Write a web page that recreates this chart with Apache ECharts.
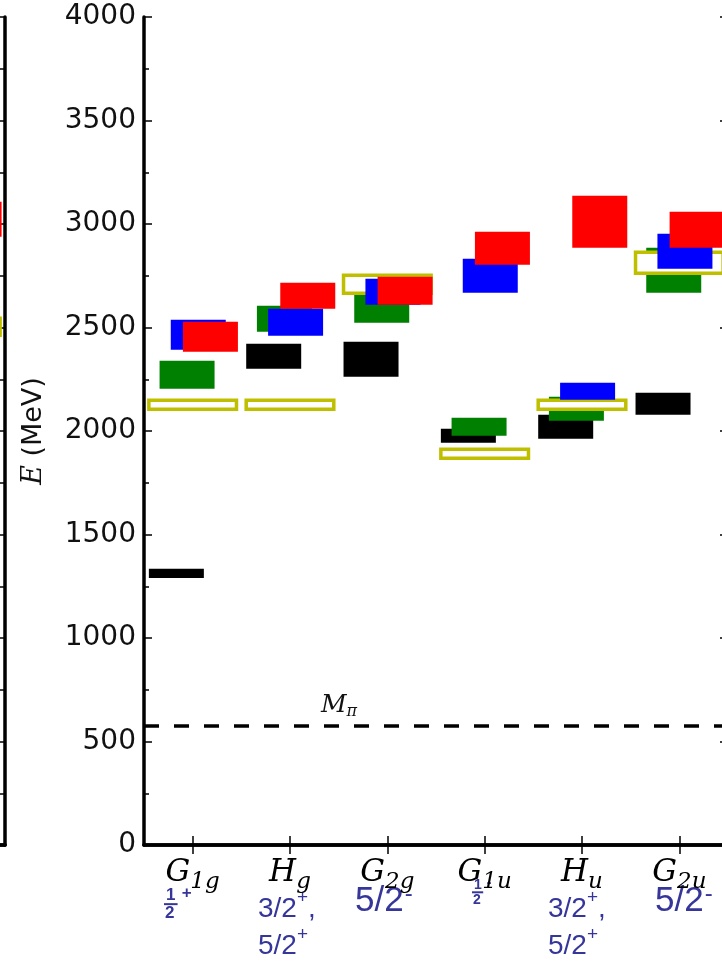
<!DOCTYPE html>
<html>
<head>
<meta charset="utf-8">
<script src="https://cdn.jsdelivr.net/npm/echarts@6/dist/echarts.min.js"></script>
<style>
  html, body { margin: 0; padding: 0; background: #fff; }
  #chart { width: 722px; height: 971px; }
</style>
</head>
<body>
<div id="chart"></div>
<script>
// irreps along the x axis
const irrepMain = ['G', 'H', 'G', 'G', 'H', 'G']
const irrepSub = ['1g', 'g', '2g', '1u', 'u', '2u']

// energy bands (MeV), low / high edge of every box
const blackLow = [1290, 2301, 2262, 1943, 1962, 2078]
const blackHigh = [1334, 2421, 2431, 2011, 2078, 2185]
const greenLow = [2204, 2479, 2523, 1977, 2049, 2668]
const greenHigh = [2339, 2605, 2673, 2064, 2165, 2885]
const blueLow = [2392, 2460, 2610, 2668, 2151, 2784]
const blueHigh = [2537, 2591, 2736, 2832, 2233, 2953]
const redLow = [2383, 2591, 2610, 2803, 2885, 2885]
const redHigh = [2528, 2716, 2745, 2963, 3137, 3059]
const yellowLow = [2105, 2105, 2666, 1868, 2105, 2762]
const yellowHigh = [2148, 2148, 2753, 1912, 2148, 2864]

// neighbouring panel (only its right edge is in view)
const leftRedLow = [null, null, null, null, null, 2939]
const leftRedHigh = [null, null, null, null, null, 3108]
const leftYellowLow = [null, null, null, null, null, 2463]
const leftYellowHigh = [null, null, null, null, null, 2545]

const mPi = 575

// spin content written under the irreps
const spinText = ['', '{n|3/2}{p|+}{n|,}\n{n|5/2}{p|+}', '{b|5/2}{q|-}', '', '{n|3/2}{p|+}{n|,}\n{n|5/2}{p|+}', '{b|5/2}{q|-}']

const chart = echarts.init(document.getElementById('chart'))

function boxSeries(lows, highs, fill, off, w, z, grid, stroke) {
  const data = []
  lows.forEach((lo, i) => {
    if (lo != null) data.push([i, lo, highs[i]])
  })
  return {
    type: 'custom',
    xAxisIndex: grid * 2,
    yAxisIndex: grid * 2,
    z: z,
    silent: true,
    clip: false,
    encode: { x: 0, y: [1, 2] },
    data: data,
    renderItem(params, api) {
      const i = api.value(0)
      const top = api.coord([i, api.value(2)])
      const bot = api.coord([i, api.value(1)])
      const band = api.size([1, 0])[0]
      return {
        type: 'rect',
        shape: { x: top[0] + off * band, y: top[1], width: w * band, height: bot[1] - top[1] },
        style: stroke ? { fill: '#fff', stroke: stroke, lineWidth: 3.5 } : { fill: fill }
      }
    }
  }
}

const axisLine = { show: true, lineStyle: { color: '#000', width: 3.5 } }
const tickStyle = { color: '#000', width: 1.5 }

function xAxis(grid, pos, labels) {
  return {
    type: 'category',
    gridIndex: grid,
    position: pos,
    data: irrepMain.map((m, i) => '{m|' + m + '}{s|' + irrepSub[i] + '}'),
    axisLine: axisLine,
    axisTick: { show: true, inside: true, alignWithLabel: true, length: 9, lineStyle: tickStyle },
    axisLabel: {
      show: labels,
      margin: 12,
      rich: {
        m: { fontFamily: 'DejaVu Serif', fontStyle: 'italic', fontSize: 31, color: '#000', verticalAlign: 'top', lineHeight: 32 },
        s: { fontFamily: 'DejaVu Serif', fontStyle: 'italic', fontSize: 23, color: '#000', verticalAlign: 'top', lineHeight: 23, padding: [14, 0, 0, 0] }
      }
    },
    splitLine: { show: false }
  }
}

function yAxis(grid, pos, labels) {
  const ax = {
    type: 'value',
    gridIndex: grid,
    position: pos,
    min: 0,
    max: 4000,
    interval: 500,
    axisLine: axisLine,
    axisTick: { show: true, inside: true, length: 8, lineStyle: tickStyle },
    minorTick: { show: true, splitNumber: 2, length: 5, lineStyle: tickStyle },
    splitLine: { show: false },
    axisLabel: { show: labels, fontFamily: 'DejaVu Sans', fontSize: 28, color: '#111', margin: 8, formatter: v => String(v) }
  }
  if (labels) {
    ax.name = '{e|E} (MeV)'
    ax.nameLocation = 'middle'
    ax.nameRotate = 90
    ax.nameGap = 97
    ax.nameTextStyle = {
      fontFamily: 'DejaVu Sans', fontSize: 27, color: '#111',
      rich: { e: { fontFamily: 'DejaVu Serif', fontStyle: 'italic', fontSize: 27, color: '#111' } }
    }
  }
  return ax
}

const blueTxt = '#35359a'
const spinRich = {
  n: { fontFamily: 'Liberation Sans', fontSize: 28, fill: blueTxt, lineHeight: 37, verticalAlign: 'bottom' },
  p: { fontFamily: 'Liberation Sans', fontSize: 19, fill: blueTxt, lineHeight: 37, verticalAlign: 'top', padding: [2, 0, 0, 0] },
  b: { fontFamily: 'Liberation Sans', fontSize: 35, fill: blueTxt, lineHeight: 37, verticalAlign: 'bottom' },
  q: { fontFamily: 'Liberation Sans', fontSize: 24, fill: blueTxt, lineHeight: 37, verticalAlign: 'top', padding: [0, 0, 0, 1] }
}
const spinPos = [null, [258, 886], [355, 882], null, [548, 886], [655, 882]]

const graphics = []
spinText.forEach((t, i) => {
  if (!t) return
  graphics.push({ type: 'text', left: spinPos[i][0], top: spinPos[i][1], style: { text: t, rich: spinRich, fill: blueTxt } })
})

// the two stacked one-halves
function half(x, y, s, sign) {
  return {
    type: 'group', left: x, top: y,
    children: [
      { type: 'text', x: 2, y: 0, style: { text: '1', fontFamily: 'Liberation Sans', fontWeight: 'bold', fontSize: s, fill: blueTxt } },
      { type: 'rect', shape: { x: 0, y: s * 0.95, width: s * 0.8, height: 2 }, style: { fill: blueTxt } },
      { type: 'text', x: 1, y: s * 1.05, style: { text: '2', fontFamily: 'Liberation Sans', fontWeight: 'bold', fontSize: s, fill: blueTxt } },
      { type: 'text', x: s * 1.05, y: -2, style: { text: sign, fontFamily: 'Liberation Sans', fontWeight: 'bold', fontSize: s, fill: blueTxt } }
    ]
  }
}
graphics.push(half(164, 885, 17, '+'))
graphics.push(half(472, 876, 14, '-'))

// M_pi label above the dashed line
graphics.push({
  type: 'text', left: 321, top: 693,
  style: {
    text: '{m|M}{s|π}',
    rich: {
      m: { fontFamily: 'DejaVu Serif', fontStyle: 'italic', fontSize: 25, fill: '#111', verticalAlign: 'top', lineHeight: 26 },
      s: { fontFamily: 'DejaVu Serif', fontStyle: 'italic', fontSize: 16, fill: '#111', verticalAlign: 'top', lineHeight: 16, padding: [11, 0, 0, 0] }
    }
  }
})

chart.setOption({
  animation: false,
  backgroundColor: '#fff',
  grid: [
    { left: 144, top: 17, width: 584, bottom: 126, outerBoundsMode: 'none', containLabel: false },
    { left: -579, top: 17, width: 584, bottom: 126, outerBoundsMode: 'none', containLabel: false }
  ],
  xAxis: [xAxis(0, 'bottom', true), xAxis(0, 'top', false), xAxis(1, 'bottom', false), xAxis(1, 'top', false)],
  yAxis: [yAxis(0, 'left', true), yAxis(0, 'right', false), yAxis(1, 'left', false), yAxis(1, 'right', false)],
  graphic: graphics,
  series: [
    boxSeries(blackLow, blackHigh, '#000', -0.45, 0.565, 1, 0),
    boxSeries(greenLow, greenHigh, '#008000', -0.34, 0.565, 2, 0),
    boxSeries(yellowLow, yellowHigh, null, -0.45, 0.9, 3, 0, '#bfbf00'),
    boxSeries(blueLow, blueHigh, '#0000ff', -0.225, 0.565, 4, 0),
    boxSeries(redLow, redHigh, '#ff0000', -0.1, 0.565, 5, 0),
    boxSeries(leftYellowLow, leftYellowHigh, null, -0.45, 0.9, 3, 1, '#bfbf00'),
    boxSeries(leftRedLow, leftRedHigh, '#ff0000', -0.1, 0.565, 5, 1),
    {
      type: 'line',
      xAxisIndex: 0,
      yAxisIndex: 0,
      data: [],
      markLine: {
        silent: true,
        symbol: 'none',
        label: { show: false },
        lineStyle: { color: '#000', width: 3.5, type: [15, 15] },
        data: [{ yAxis: mPi }]
      }
    }
  ]
})
</script>
</body>
</html>
